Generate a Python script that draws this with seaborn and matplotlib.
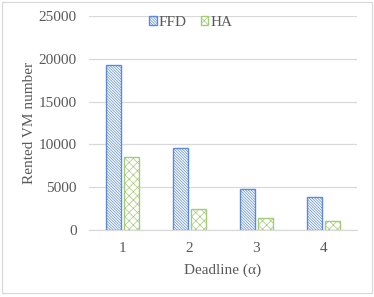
import numpy as np
import pandas as pd
import matplotlib
matplotlib.use("Agg")
import matplotlib.pyplot as plt
import seaborn as sns
from matplotlib.patches import Patch, Rectangle

# Chart data
deadlines = ["1", "2", "3", "4"]
ffd_values = [19250, 9600, 4750, 3800]
ha_values = [8550, 2500, 1450, 1100]
series_names = ["FFD", "HA"]
y_ticks = [0, 5000, 10000, 15000, 20000, 25000]

COLORS = {"FFD": "#5B8BD6", "HA": "#A3CC78"}
HATCHES = {"FFD": "\\" * 12, "HA": "xxxx"}
TEXT = "#595959"

sns.set_theme(style="white")
plt.rcParams.update({
    "font.family": ["Liberation Serif", "DejaVu Serif"],
    "font.size": 10,
    "hatch.linewidth": 0.5,
})

df = pd.DataFrame({
    "Deadline": deadlines * 2,
    "Series": ["FFD"] * len(deadlines) + ["HA"] * len(deadlines),
    "Value": ffd_values + ha_values,
})

fig = plt.figure(figsize=(3.74, 2.97), dpi=100)
ax = fig.add_axes([0.238, 0.2256, 0.7165, 0.7204])

sns.barplot(data=df, x="Deadline", y="Value", hue="Series", hue_order=series_names,
            palette=COLORS, width=0.52, gap=0.14, ax=ax, legend=False)

# hatched, white-filled bars
for cont, name in zip(ax.containers, series_names):
    for bar in cont:
        bar.set_facecolor("white")
        bar.set_edgecolor(COLORS[name])
        bar.set_hatch(HATCHES[name])
        bar.set_linewidth(1.0)

ax.set_xlim(-0.5, 3.5)
ax.set_ylim(0, 25000)
ax.set_yticks(y_ticks)
ax.yaxis.grid(True, color="#d9d9d9", linewidth=0.9)
ax.set_axisbelow(True)
for s in ["top", "right", "left"]:
    ax.spines[s].set_visible(False)
ax.spines["bottom"].set_color("#d9d9d9")
ax.spines["bottom"].set_linewidth(0.9)
ax.tick_params(axis="both", length=0, colors=TEXT, labelsize=11)
ax.tick_params(axis="y", pad=9)
ax.tick_params(axis="x", pad=9)

ax.set_xlabel("Deadline (α)", color=TEXT, fontsize=11, labelpad=6)
ax.set_ylabel("Rented VM number", color=TEXT, fontsize=11, labelpad=2)

handles = [Patch(facecolor="white", edgecolor=COLORS[n], hatch=HATCHES[n], label=n)
           for n in series_names]
leg = ax.legend(handles=handles, loc="center", bbox_to_anchor=(0.38, 0.972), ncol=2,
                frameon=False, fontsize=11, handlelength=0.5, handleheight=0.55,
                handletextpad=0.15, columnspacing=0.9, borderaxespad=0)
for t in leg.get_texts():
    t.set_color(TEXT)

# outer chart border
fig.add_artist(Rectangle((0.006, 0.013), 0.988, 0.98, transform=fig.transFigure,
                         fill=False, edgecolor="#d9d9d9", linewidth=0.9))

fig.savefig("out.png", dpi=100)
